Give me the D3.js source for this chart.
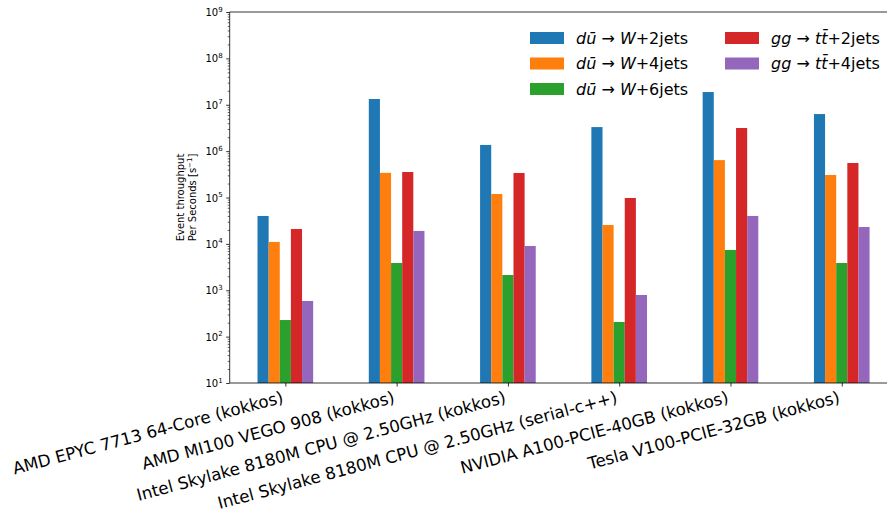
<!DOCTYPE html>
<html><head><meta charset="utf-8">
<script src="https://cdn.jsdelivr.net/npm/d3@7"></script>
<style>body{margin:0;background:#fff}svg{display:block}text{font-family:"DejaVu Sans",sans-serif}</style>
</head><body><svg id="c" width="887" height="512"></svg>
<script>
const categories = ["AMD EPYC 7713 64-Core (kokkos)","AMD MI100 VEGO 908 (kokkos)","Intel Skylake 8180M CPU @ 2.50GHz (kokkos)","Intel Skylake 8180M CPU @ 2.50GHz (serial-c++)","NVIDIA A100-PCIE-40GB (kokkos)","Tesla V100-PCIE-32GB (kokkos)"];
const w2jets = [4.0e4, 1.33e7, 1.36e6, 3.3e6, 1.88e7, 6.3e6];
const w4jets = [1.1e4, 3.4e5, 1.19e5, 2.55e4, 6.4e5, 3.06e5];
const w6jets = [228, 3.87e3, 2.13e3, 207, 7.4e3, 3.87e3];
const tt2jets = [2.09e4, 3.55e5, 3.38e5, 9.75e4, 3.15e6, 5.55e5];
const tt4jets = [587, 1.9e4, 9.0e3, 790, 4.0e4, 2.31e4];
const yTicks = [1e1,1e2,1e3,1e4,1e5,1e6,1e7,1e8,1e9];
const series = [
  {key:"w2", values:w2jets, color:"#1f77b4", label:[["d",1],["ū",1],[" → ",0],["W",1],["+2jets",0]]},
  {key:"w4", values:w4jets, color:"#ff7f0e", label:[["d",1],["ū",1],[" → ",0],["W",1],["+4jets",0]]},
  {key:"w6", values:w6jets, color:"#2ca02c", label:[["d",1],["ū",1],[" → ",0],["W",1],["+6jets",0]]},
  {key:"tt2", values:tt2jets, color:"#d62728", label:[["gg",1],[" → ",0],["tt\u0304",1],["+2jets",0]]},
  {key:"tt4", values:tt4jets, color:"#9467bd", label:[["gg",1],[" → ",0],["tt\u0304",1],["+4jets",0]]}
];

const svg = d3.select("#c");
const L = 229.7, R = 897.4, T = 12, B = 383;
const x = d3.scaleLinear().domain([-0.5, 5.5]).range([L, R]);
const y = d3.scaleLog().domain([10, 1e9]).range([B, T]);
const bw = 0.1;

// bars
series.forEach((s, si) => {
  svg.append("g").selectAll("rect").data(s.values).join("rect")
    .attr("x", (d,i) => x(i + (si-2)*bw - bw/2))
    .attr("width", x(bw) - x(0))
    .attr("y", d => y(d))
    .attr("height", d => B - y(d))
    .attr("fill", s.color);
});

// y axis
const yAxis = svg.append("g").attr("transform", `translate(${L},0)`)
  .call(d3.axisLeft(y).tickValues(yTicks).tickSize(3.5).tickPadding(3.5).tickFormat(""));
yAxis.select(".domain").remove();
yAxis.selectAll(".tick line").attr("stroke","#000").attr("stroke-width",0.8);
yAxis.selectAll(".tick").each(function(d){
  const t = d3.select(this).append("text").attr("x",-7).attr("dy","0.35em")
    .attr("text-anchor","end").attr("font-size",10).attr("fill","#000");
  t.append("tspan").text("10");
  t.append("tspan").attr("font-size",7).attr("dy",-4.5).text(Math.round(Math.log10(d)));
});
// minor ticks
const minor = [];
for (let e = 1; e < 9; e++) for (let m = 2; m <= 9; m++) minor.push(m*Math.pow(10,e));
svg.append("g").attr("transform", `translate(${L},0)`)
  .call(d3.axisLeft(y).tickValues(minor).tickSize(2).tickFormat(""))
  .call(g => g.select(".domain").remove())
  .selectAll(".tick line").attr("stroke","#000").attr("stroke-width",0.6);

// x axis
const xAxis = svg.append("g").attr("transform", `translate(0,${B})`)
  .call(d3.axisBottom(x).tickValues(d3.range(categories.length)).tickSize(3.5).tickFormat(""));
xAxis.select(".domain").remove();
xAxis.selectAll(".tick line").attr("stroke","#000").attr("stroke-width",0.8);

const fs = 16.7, sin = Math.sin(15*Math.PI/180), cos = Math.cos(15*Math.PI/180);
svg.append("g").selectAll("text").data(categories).join("text")
  .attr("text-anchor","end").attr("font-size",fs).attr("fill","#000")
  .attr("transform",(d,i)=>`translate(${x(i) - sin*0.23*fs},${B + 7 + cos*0.76*fs}) rotate(-15)`)
  .text(d=>d);

// spines
svg.append("path").attr("d",`M${L},${T}V${B}H${R}M${L},${T}H${R}`)
  .attr("fill","none").attr("stroke","#000").attr("stroke-width",0.8);

// y label
const yl = svg.append("text").attr("transform",`translate(184,${(T+B)/2}) rotate(-90)`)
  .attr("text-anchor","middle").attr("font-size",10).attr("fill","#000");
yl.append("tspan").attr("x",0).attr("dy",0).text("Event throughput");
const l2 = yl.append("tspan").attr("x",0).attr("dy",11.5).text("Per Seconds [s");
l2.append("tspan").attr("font-size",7).attr("dy",-4).text("\u22121");
l2.append("tspan").attr("dy",4).text("]");

// legend
const legPos = [[530,38],[530,63.5],[530,89],[725,38],[725,63.5]];
series.forEach((s, si) => {
  const [lx, ly] = legPos[si];
  svg.append("rect").attr("x",lx).attr("y",ly-6).attr("width",34).attr("height",12).attr("fill",s.color);
  const t = svg.append("text").attr("x",lx+46).attr("y",ly).attr("dy","0.35em").attr("font-size",16).attr("fill","#000");
  s.label.forEach(([str,it]) => t.append("tspan").attr("font-style", it ? "italic" : "normal").text(str));
});
</script></body></html>
